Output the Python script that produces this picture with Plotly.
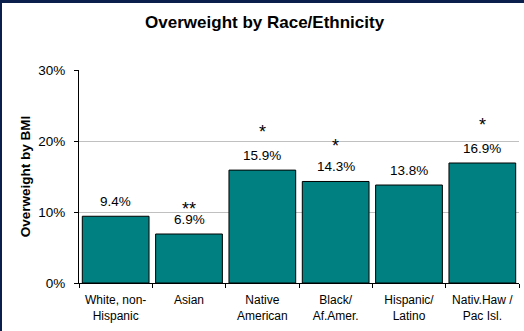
import plotly.graph_objects as go

categories = ["White, non-<br>Hispanic", "Asian", "Native<br>American", "Black/<br>Af.Amer.", "Hispanic/<br>Latino", "Nativ.Haw /<br>Pac Isl."]
values = [9.4, 6.9, 15.9, 14.3, 13.8, 16.9]
labels = ["9.4%", "6.9%", "15.9%", "14.3%", "13.8%", "16.9%"]
stars = ["", "**", "*", "*", "", "*"]
y_ticks = [0, 10, 20, 30]
y_tick_text = ["0%", "10%", "20%", "30%"]

# styling
star_shift = [0, 25, 38, 35, 0, 38]
FONT = "Liberation Sans, Arial, sans-serif"
L, R, T, B = 79, 5, 70, 48
W, H = 524, 331
PW, PH = W - L - R, H - T - B

fig = go.Figure()
fig.add_trace(go.Bar(
    x=categories, y=values,
    marker=dict(color="#008080", line=dict(color="#000000", width=1)),
    hoverinfo="skip",
))

ann = []
for c, v, lab, s, sh in zip(categories, values, labels, stars, star_shift):
    ann.append(dict(x=c, y=v, xref="x", yref="y", text=lab, showarrow=False,
                    yanchor="middle", yshift=15,
                    font=dict(family=FONT, size=13.5, color="#000000")))
    if s:
        ann.append(dict(x=c, y=v, xref="x", yref="y", text=s, showarrow=False,
                        yanchor="middle", yshift=sh,
                        font=dict(family=FONT, size=18, color="#000000")))

def px_x(p):
    return (p - L) / PW

def px_y(p):
    return (H - B - p) / PH

navy = "#0b1f4d"
shapes = [
    dict(type="rect", xref="paper", yref="paper", x0=px_x(0), x1=px_x(W),
         y0=px_y(3), y1=px_y(0), fillcolor=navy, line=dict(width=0), layer="above"),
    dict(type="rect", xref="paper", yref="paper", x0=px_x(0), x1=px_x(2),
         y0=px_y(H), y1=px_y(0), fillcolor=navy, line=dict(width=0), layer="above"),
]

fig.update_layout(
    width=W, height=H,
    margin=dict(l=L, r=R, t=T, b=B, pad=0),
    paper_bgcolor="#ffffff", plot_bgcolor="#ffffff",
    bargap=0.09,
    showlegend=False,
    title=dict(text="<b>Overweight by Race/Ethnicity</b>", x=0.505, xref="container",
               xanchor="center", y=1 - 22 / H, yref="container", yanchor="middle",
               font=dict(family=FONT, size=17, color="#000000")),
    annotations=ann,
    shapes=shapes,
    font=dict(family=FONT, color="#000000"),
)
fig.update_xaxes(
    type="category", range=[-0.5, 5.5],
    showline=True, linecolor="#000000", linewidth=1,
    ticks="outside", ticklen=4, tickcolor="#000000", tickson="boundaries",
    tickfont=dict(family=FONT, size=12, color="#000000"),
    ticklabelstandoff=6,
    showgrid=False, fixedrange=True,
)
fig.update_yaxes(
    range=[0, 30], tickvals=y_ticks, ticktext=y_tick_text,
    showline=True, linecolor="#000000", linewidth=1,
    ticks="outside", ticklen=4, tickcolor="#000000",
    showgrid=True, gridcolor="#c0c0c0", gridwidth=1,
    zeroline=False,
    tickfont=dict(family=FONT, size=13.5, color="#000000"),
    ticklabelstandoff=6,
    title=dict(text="<b>Overweight by BMI</b>", standoff=4,
               font=dict(family=FONT, size=13.5, color="#000000")),
    fixedrange=True,
)

fig.write_html("out.html")
